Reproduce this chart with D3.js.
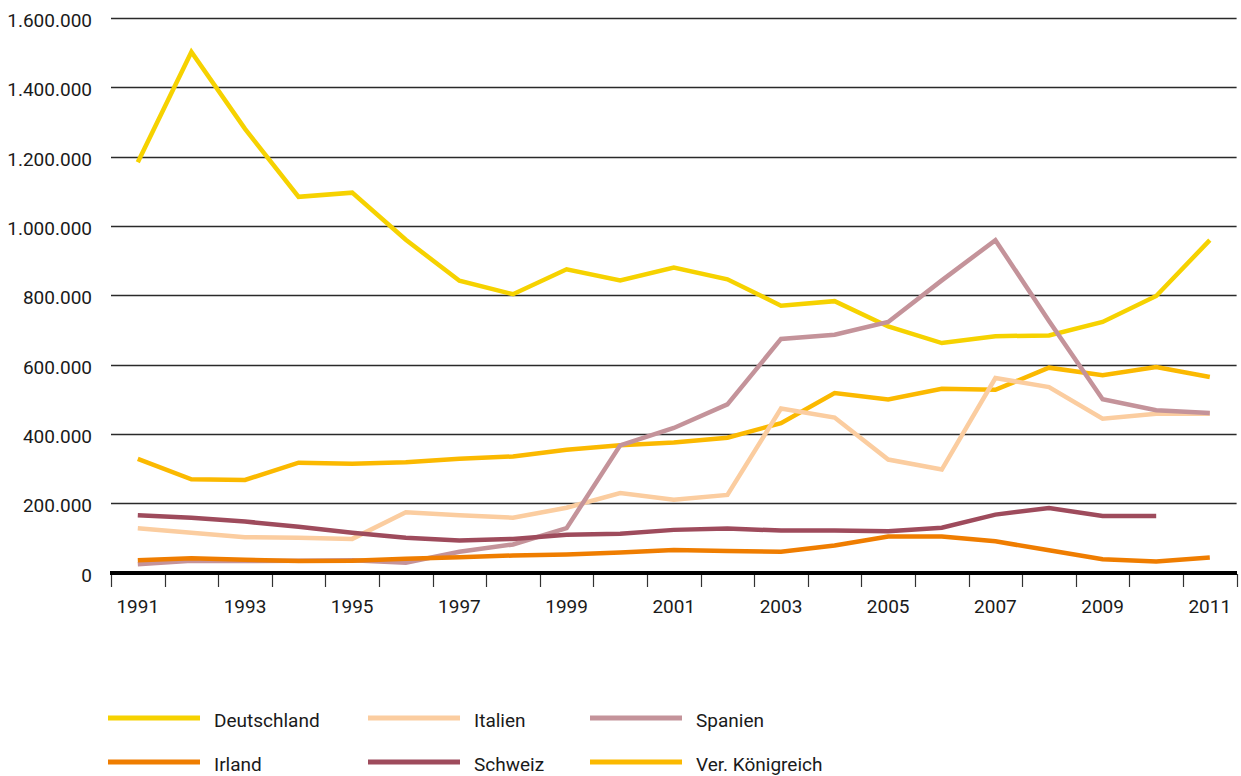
<!DOCTYPE html>
<html>
<head>
<meta charset="utf-8">
<script src="https://cdn.jsdelivr.net/npm/d3@7"></script>
<style>
  html, body { margin: 0; padding: 0; background: #fff; }
  #chart { width: 1241px; height: 776px; }
  text { font-family: Roboto, "Noto Sans", sans-serif; fill: #1a1a1a; }
</style>
</head>
<body>
<div id="chart"></div>
<script>
const years = [1991, 1992, 1993, 1994, 1995, 1996, 1997, 1998, 1999, 2000, 2001,
               2002, 2003, 2004, 2005, 2006, 2007, 2008, 2009, 2010, 2011];
const yTicks = [0, 200000, 400000, 600000, 800000, 1000000, 1200000, 1400000, 1600000];
const xLabels = [1991, 1993, 1995, 1997, 1999, 2001, 2003, 2005, 2007, 2009, 2011];

const deutschland = [1184000, 1502000, 1280000, 1084000, 1096000, 960000, 842000, 803000, 875000, 843000, 880000,
                     846000, 770000, 783000, 710000, 662000, 682000, 684000, 723000, 798000, 959000];
const italien = [128000, 115000, 102000, 100000, 97000, 174000, 165000, 158000, 187000, 229000, 210000,
                 224000, 473000, 447000, 326000, 297000, 561000, 535000, 444000, 458000, 458000];
const spanien = [24000, 34000, 33000, 34000, 35000, 28000, 60000, 81000, 128000, 367000, 417000,
                 485000, 674000, 686000, 723000, 843000, 959000, 726000, 500000, 468000, 460000];
const irland = [35000, 41000, 37000, 33000, 34000, 40000, 44000, 49000, 52000, 58000, 65000,
                62000, 60000, 78000, 104000, 104000, 90000, 64000, 38000, 32000, 43000];
const schweiz = [165000, 158000, 147000, 132000, 115000, 100000, 92000, 97000, 109000, 112000, 123000,
                 127000, 121000, 121000, 119000, 129000, 167000, 186000, 163000, 163000, null];
const vereinigtesKoenigreich = [328000, 269000, 267000, 317000, 314000, 318000, 328000, 335000, 354000, 367000, 375000,
                                389000, 431000, 518000, 499000, 530000, 527000, 591000, 569000, 593000, 564000];

const seriesNames = ["Deutschland", "Italien", "Spanien", "Irland", "Schweiz", "Ver. Königreich"];
const seriesValues = [deutschland, italien, spanien, irland, schweiz, vereinigtesKoenigreich];
const seriesColors = ["#f6d200", "#fbcda0", "#c4939a", "#ef7d00", "#9e4b5c", "#fbb900"];
// drawing order (back to front)
const drawOrder = [5, 0, 1, 2, 4, 3];

const width = 1241, height = 776;
const svg = d3.select("#chart").append("svg").attr("width", width).attr("height", height);

const x = d3.scaleBand().domain(years).range([111, 1236.6]).padding(0);
const y = d3.scaleLinear().domain([0, 1600000]).range([572.5, 18]);
const fmt = d3.formatLocale({ decimal: ",", thousands: ".", grouping: [3], currency: ["", " €"] }).format(",d");

// gridlines
svg.append("g").selectAll("line").data(yTicks.filter(d => d > 0)).join("line")
  .attr("x1", 111).attr("x2", 1236.6)
  .attr("y1", d => Math.round(y(d)) + 0.5).attr("y2", d => Math.round(y(d)) + 0.5)
  .attr("stroke", "#2a2a2a").attr("stroke-width", 1.3);

// y labels
svg.append("g").selectAll("text").data(yTicks).join("text")
  .attr("x", 92).attr("y", d => y(d) + 9)
  .attr("text-anchor", "end").attr("font-size", 19)
  .text(d => fmt(d));

// x axis ticks at band boundaries
const bounds = years.map(d => x(d)).concat([x.range()[1]]);
svg.append("g").selectAll("line").data(bounds).join("line")
  .attr("x1", d => Math.round(d) + 0.5).attr("x2", d => Math.round(d) + 0.5)
  .attr("y1", 574).attr("y2", 587)
  .attr("stroke", "#333").attr("stroke-width", 1.2);

svg.append("line").attr("x1", 110).attr("x2", 1237).attr("y1", 573).attr("y2", 573)
  .attr("stroke", "#000").attr("stroke-width", 4);

svg.append("g").selectAll("text").data(xLabels).join("text")
  .attr("x", d => x(d) + x.bandwidth() / 2).attr("y", 613)
  .attr("text-anchor", "middle").attr("font-size", 19)
  .text(d => d);

// lines
const line = d3.line()
  .defined(d => d.v != null)
  .x(d => x(d.year) + x.bandwidth() / 2)
  .y(d => y(d.v));

const gLines = svg.append("g");
drawOrder.forEach(i => {
  const pts = years.map((yr, j) => ({ year: yr, v: seriesValues[i][j] }));
  gLines.append("path").datum(pts)
    .attr("d", line)
    .attr("fill", "none")
    .attr("stroke", seriesColors[i])
    .attr("stroke-width", 4.5)
    .attr("stroke-linejoin", "miter");
});

// legend
const legCols = [108, 368, 590];
const legRows = [718, 762];
const legend = svg.append("g");
seriesNames.forEach((name, i) => {
  const lx = legCols[i % 3], ly = legRows[Math.floor(i / 3)];
  legend.append("line").attr("x1", lx).attr("x2", lx + 92).attr("y1", ly).attr("y2", ly)
    .attr("stroke", seriesColors[i]).attr("stroke-width", 5);
  legend.append("text").attr("x", lx + 106).attr("y", ly + 9)
    .attr("font-size", 19).text(name);
});
</script>
</body>
</html>
